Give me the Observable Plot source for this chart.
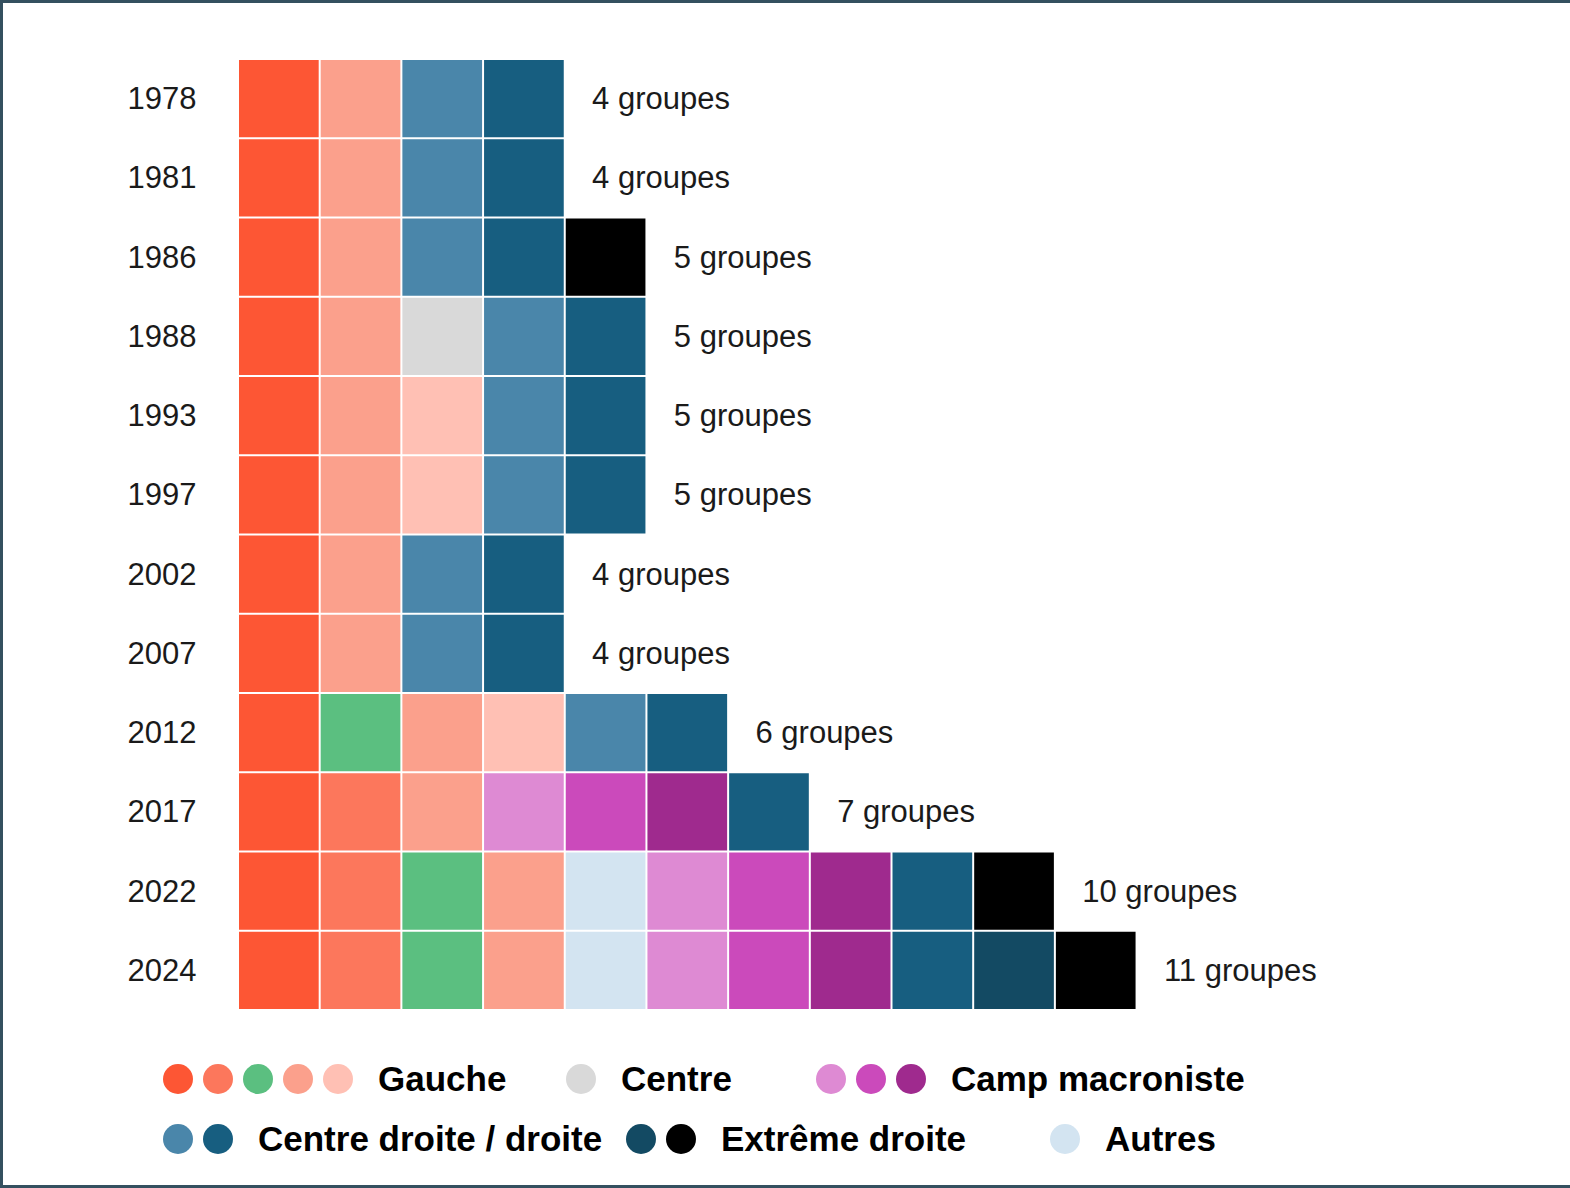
<!DOCTYPE html>
<html>
<head>
<meta charset="utf-8">
<script src="https://cdn.jsdelivr.net/npm/d3@7"></script>
<script src="https://cdn.jsdelivr.net/npm/@observablehq/plot@0.6"></script>
<style>
  html, body { margin: 0; padding: 0; background: #fff; }
  #wrap { position: relative; width: 1570px; height: 1188px; overflow: hidden; font-family: "Liberation Sans", Arial, sans-serif; }
  #frame { position: absolute; left: 0; top: 0; width: 1570px; height: 1188px; box-sizing: border-box;
           border-top: 3px solid #34505f; border-left: 3px solid #34505f; border-bottom: 3px solid #34505f; pointer-events: none; }
  #chart svg { display: block; }
  .leg { position: absolute; display: flex; align-items: center; font-weight: bold; font-size: 35px; color: #000; white-space: nowrap; }
  .dot { width: 30px; height: 30px; border-radius: 50%; display: inline-block; margin-right: 10px; }
  .lab { margin-left: 15px; }
</style>
</head>
<body>
<div id="wrap">
  <div id="chart"></div>
  <div id="legend"></div>
  <div id="frame"></div>
</div>
<script>
// Years (rows)
const years = ["1978","1981","1986","1988","1993","1997","2002","2007","2012","2017","2022","2024"];

// Group composition per year, left to right (colour keys)
const comp1978 = ["G1","G4","D1","D2"];
const comp1981 = ["G1","G4","D1","D2"];
const comp1986 = ["G1","G4","D1","D2","ED2"];
const comp1988 = ["G1","G4","C","D1","D2"];
const comp1993 = ["G1","G4","G5","D1","D2"];
const comp1997 = ["G1","G4","G5","D1","D2"];
const comp2002 = ["G1","G4","D1","D2"];
const comp2007 = ["G1","G4","D1","D2"];
const comp2012 = ["G1","G3","G4","G5","D1","D2"];
const comp2017 = ["G1","G2","G4","M1","M2","M3","D2"];
const comp2022 = ["G1","G2","G3","G4","A","M1","M2","M3","D2","ED2"];
const comp2024 = ["G1","G2","G3","G4","A","M1","M2","M3","D2","ED1","ED2"];
const compositions = [comp1978, comp1981, comp1986, comp1988, comp1993, comp1997, comp2002, comp2007, comp2012, comp2017, comp2022, comp2024];

// Colour keys and colours
const keys   = ["G1","G2","G3","G4","G5","C","M1","M2","M3","D1","D2","ED1","ED2","A"];
const colors = ["#FD5634","#FC775C","#5BBF80","#FBA08C","#FFC0B4","#D9D9D9","#DE8AD3","#CB4ABB","#9F2A8E","#4A86AA","#175E80","#134A63","#000000","#D3E4F1"];

// Legend groups
const legendRow1 = [
  {label: "Gauche", keys: ["G1","G2","G3","G4","G5"]},
  {label: "Centre", keys: ["C"]},
  {label: "Camp macroniste", keys: ["M1","M2","M3"]}
];
const legendRow2 = [
  {label: "Centre droite / droite", keys: ["D1","D2"]},
  {label: "Extrême droite", keys: ["ED1","ED2"]},
  {label: "Autres", keys: ["A"]}
];

const cells = years.flatMap((y, i) => compositions[i].map((k, j) => ({year: y, pos: j, key: k})));
const labels = years.map((y, i) => ({year: y, n: compositions[i].length, text: `${compositions[i].length} groupes`}));

const chart = Plot.plot({
  width: 1570,
  height: 1030,
  marginLeft: 238,
  marginRight: 25,
  marginTop: 59,
  marginBottom: 20,
  x: {type: "band", domain: d3.range(16), padding: 0, round: false, axis: null},
  y: {type: "band", domain: years, padding: 0, round: false, axis: null},
  color: {type: "ordinal", domain: keys, range: colors},
  style: {fontFamily: "'Liberation Sans', Arial, sans-serif", fontSize: "31px", color: "#1a1a1a", background: "transparent"},
  marks: [
    Plot.cell(cells, {x: "pos", y: "year", fill: "key", inset: 1}),
    Plot.text(labels, {x: "n", y: "year", text: "text", textAnchor: "start", dx: -14, fontSize: 31, fill: "#1a1a1a"}),
    Plot.axisY({tickSize: 0, tickPadding: 42, fontSize: 31, label: null, fill: "#1a1a1a"})
  ]
});
document.getElementById("chart").appendChild(chart);

// Legend (HTML below the SVG)
const colorOf = k => colors[keys.indexOf(k)];
const legend = document.getElementById("legend");
function addItem(item, left, top) {
  const div = document.createElement("div");
  div.className = "leg";
  div.style.left = left + "px";
  div.style.top = top + "px";
  item.keys.forEach(k => {
    const s = document.createElement("span");
    s.className = "dot";
    s.style.background = colorOf(k);
    div.appendChild(s);
  });
  const t = document.createElement("span");
  t.className = "lab";
  t.textContent = item.label;
  div.appendChild(t);
  legend.appendChild(div);
}
const row1Left = [163, 566, 816];
const row2Left = [163, 626, 1050];
legendRow1.forEach((it, i) => addItem(it, row1Left[i], 1059));
legendRow2.forEach((it, i) => addItem(it, row2Left[i], 1119));
</script>
</body>
</html>
